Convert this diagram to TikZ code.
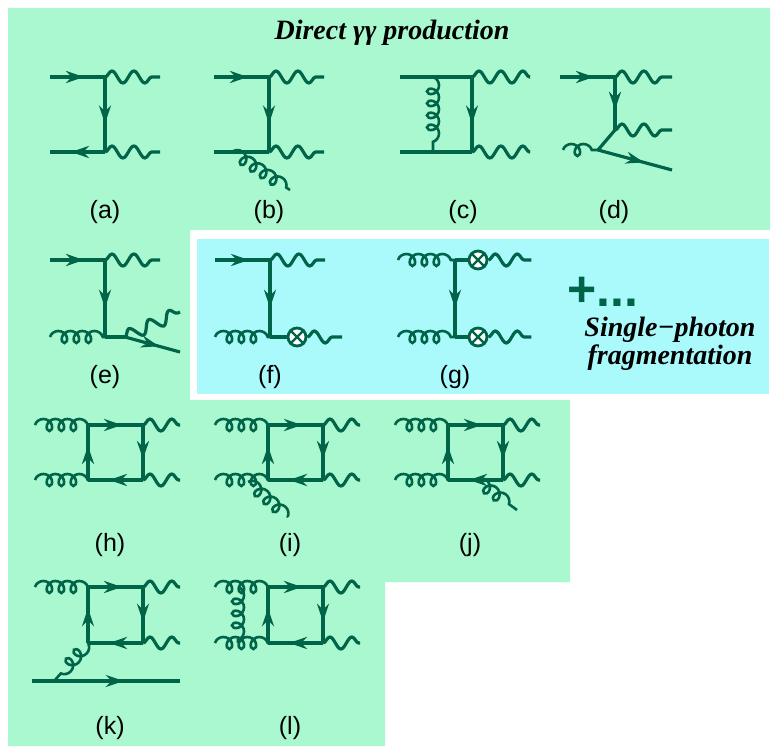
\documentclass[tikz,border=0pt]{standalone}
\usepackage{fontspec}
\setmainfont{Liberation Serif}
\newfontfamily\labfont{Liberation Sans}
\usetikzlibrary{decorations.pathmorphing,decorations.markings,arrows.meta}
\definecolor{qline}{RGB}{0,100,72}
\definecolor{bggreen}{RGB}{170,248,208}
\definecolor{bgcyan}{RGB}{170,250,252}
\tikzset{
  prop/.style={draw=qline,line width=3.2pt},
  fermion/.style={prop,postaction={decorate,decoration={markings,mark=at position .62 with {\arrow{Stealth[length=18pt,width=12pt]}}}}},
  photon/.style={prop,decorate,decoration={snake,amplitude=6pt,segment length=22pt}},
  gluon/.style={prop,line width=2.6pt,decorate,decoration={coil,amplitude=6pt,segment length=12pt,aspect=.9}},
  vx/.style={circle,draw=qline,line width=2.8pt,fill=white,minimum size=18pt,inner sep=0pt},
  lab/.style={font=\labfont\fontsize{25}{25}\selectfont},
  ttl/.style={font=\bfseries\itshape\fontsize{28}{28}\selectfont,align=center}
}
\begin{document}
\begin{tikzpicture}[x=1pt,y=-1pt]
\useasboundingbox (0,0) rectangle (777,754);
% backgrounds
\fill[bggreen](8,8)--(770,8)--(770,230)--(190,230)--(190,400)--(570,400)--(570,582)--(385,582)--(385,746)--(8,746)--cycle;
\fill[bgcyan](197,239)rectangle(769,394);
\node[ttl]at(392,33){Direct γγ production};
% (a)
\coordinate(A1)at(105,77);\coordinate(A2)at(105,152);
\draw[fermion](50,77)--(A1);\draw[fermion](A1)--(A2);\draw[fermion](A2)--(50,152);
\draw[photon](A1)--(160,77);\draw[photon](A2)--(160,152);
\node[lab]at(105,212){(a)};
% (b)
\coordinate(B1)at(269,77);\coordinate(B2)at(269,152);
\draw[fermion](214,77)--(B1);\draw[fermion](B1)--(B2);\draw[prop](B2)--(214,152);
\draw[photon](B1)--(324,77);\draw[photon](B2)--(324,152);
\draw[gluon](232,152)--(290,190);
\node[lab]at(269,212){(b)};
% (c)
\coordinate(C1)at(472,77);\coordinate(C2)at(472,152);
\draw[prop](400,77)--(C1);\draw[fermion](C1)--(C2);\draw[prop](C2)--(400,152);
\draw[photon](C1)--(530,77);\draw[photon](C2)--(530,152);
\draw[gluon](433,77)--(433,152);
\node[lab]at(463,212){(c)};
% (d)
\coordinate(D1)at(615,77);\coordinate(D2)at(615,130);\coordinate(D3)at(598,150);
\draw[fermion](560,77)--(D1);\draw[fermion](D1)--(D2);\draw[prop](D2)--(D3);
\draw[photon](D1)--(672,77);\draw[photon](D2)--(672,130);
\draw[gluon](563,150)--(D3);\draw[fermion](D3)--(672,170);
\node[lab]at(614,212){(d)};
% (e)
\coordinate(E1)at(105,260);\coordinate(E2)at(105,337);\coordinate(E3)at(125,337);
\draw[fermion](50,260)--(E1);\draw[fermion](E1)--(E2);\draw[prop](E2)--(E3);
\draw[photon](E1)--(160,260);\draw[gluon](50,337)--(E2);
\draw[fermion](E3)--(180,352);\draw[photon](E3)--(180,312);
\node[lab]at(105,377){(e)};
% (f)
\coordinate(F1)at(270,260);\coordinate(F2)at(270,337);
\node[vx](FX)at(297,337){};
\draw[fermion](215,260)--(F1);\draw[fermion](F1)--(F2);
\draw[photon](F1)--(325,260);\draw[gluon](215,337)--(F2);\draw[prop](F2)--(FX);
\draw[photon](FX.east)--(342,337);
\draw[qline,line width=2.4pt](FX.north east)--(FX.south west)(FX.north west)--(FX.south east);
\node[lab]at(270,377){(f)};
% (g)
\coordinate(G1)at(455,260);\coordinate(G2)at(455,337);
\node[vx](GX1)at(478,260){};\node[vx](GX2)at(478,337){};
\draw[gluon](398,260)--(G1);\draw[gluon](398,337)--(G2);\draw[fermion](G1)--(G2);
\draw[prop](G1)--(GX1);\draw[prop](G2)--(GX2);
\foreach\x in{GX1,GX2}{
  \draw[photon](\x.east)--++(43,0);
  \draw[qline,line width=2.4pt](\x.north east)--(\x.south west)(\x.north west)--(\x.south east);}
\node[lab]at(455,377){(g)};
\node[text=qline,font=\labfont\bfseries\fontsize{50}{50}\selectfont]at(603,292){+...};
\node[ttl]at(670,344){Single−photon\\fragmentation};
% (h) (i) (j)
\foreach\dx/\nm in{0/h,180/i,360/j}{
  \begin{scope}[xshift=\dx]
  \coordinate(P1)at(88,425);\coordinate(P2)at(143,425);\coordinate(P3)at(143,480);\coordinate(P4)at(88,480);
  \draw[gluon](35,425)--(P1);\draw[gluon](35,480)--(P4);
  \draw[fermion](P1)--(P2);\draw[fermion](P2)--(P3);\draw[fermion](P3)--(P4);\draw[fermion](P4)--(P1);
  \draw[photon](P2)--(180,425);\draw[photon](P3)--(180,480);
  \node[lab]at(110,545){(\nm)};
  \end{scope}}
\draw[gluon](248,482)--(288,517);
\draw[gluon](476,480)--(517,510);
% (k) (l)
\foreach\dx/\nm in{0/k,180/l}{
  \begin{scope}[xshift=\dx]
  \coordinate(Q1)at(88,587);\coordinate(Q2)at(143,587);\coordinate(Q3)at(143,643);\coordinate(Q4)at(88,643);
  \draw[gluon](35,587)--(Q1);
  \draw[fermion](Q1)--(Q2);\draw[fermion](Q2)--(Q3);\draw[fermion](Q3)--(Q4);\draw[fermion](Q4)--(Q1);
  \draw[photon](Q2)--(180,587);\draw[photon](Q3)--(180,643);
  \node[lab]at(110,728){(\nm)};
  \end{scope}}
\draw[gluon](88,643)--(55,680);\draw[fermion](32,681)--(180,681);
\draw[gluon](215,643)--(268,643);\draw[gluon](238,587)--(238,643);
\end{tikzpicture}
\end{document}
